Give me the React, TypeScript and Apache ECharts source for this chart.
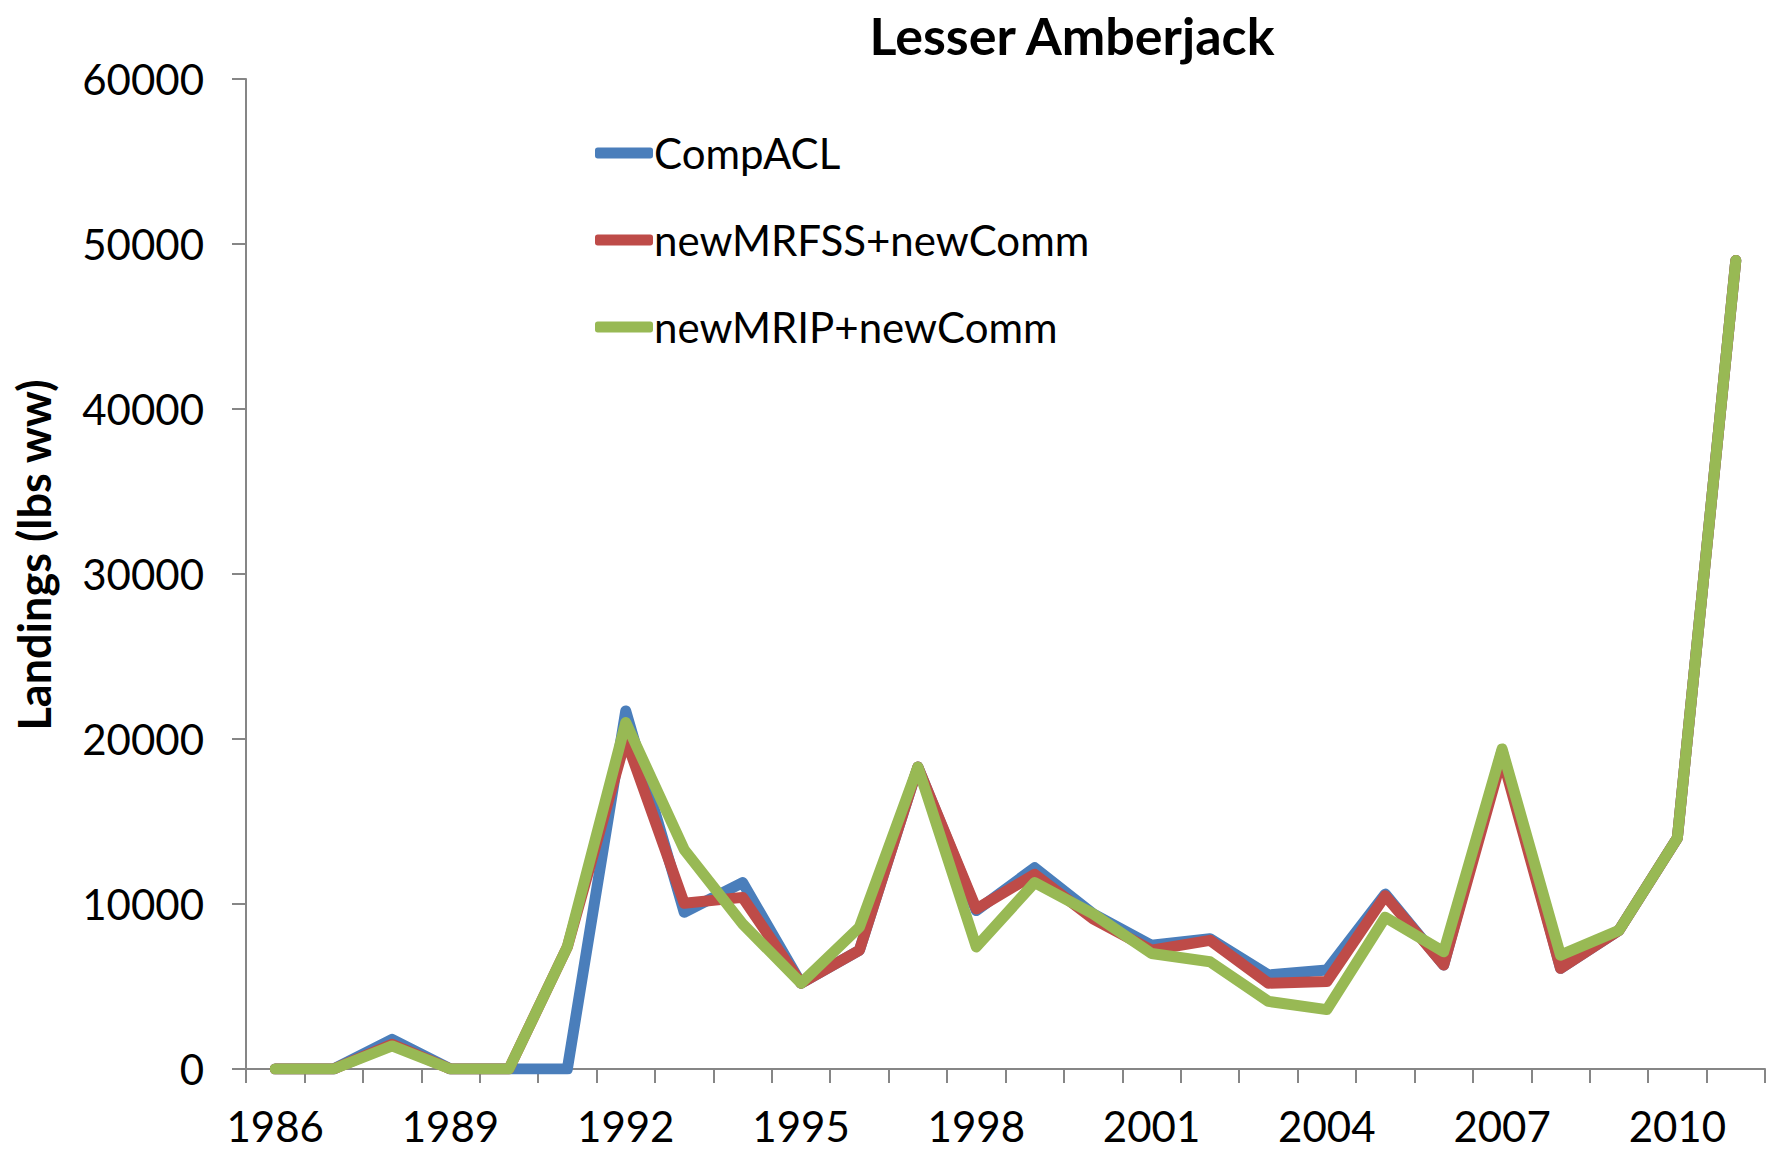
import React, { useEffect, useRef } from "react";
import * as echarts from "echarts";

const years = [
  "1986", "1987", "1988", "1989", "1990", "1991", "1992", "1993", "1994", "1995",
  "1996", "1997", "1998", "1999", "2000", "2001", "2002", "2003", "2004", "2005",
  "2006", "2007", "2008", "2009", "2010", "2011",
];
const compACL = [
  0, 0, 1800, 0, 0, 0, 21700, 9500, 11300, 5200,
  7200, 18300, 9600, 12200, 9400, 7500, 7900, 5700, 6000, 10600,
  6300, 19300, 6100, 8400, 14000, 49000,
];
const newMRFSS = [
  0, 0, 1500, 0, 0, 7400, 20000, 10050, 10400, 5200,
  7200, 18300, 9700, 11800, 9100, 7200, 7800, 5200, 5300, 10500,
  6300, 18900, 6100, 8400, 14000, 49000,
];
const newMRIP = [
  0, 0, 1400, 0, 0, 7400, 21000, 13300, 8800, 5200,
  8600, 18300, 7400, 11300, 9400, 7000, 6500, 4100, 3600, 9200,
  7100, 19400, 6900, 8400, 14000, 49000,
];
const seriesNames = ["CompACL", "newMRFSS+newComm", "newMRIP+newComm"];
const seriesColors = ["#4A7EBB", "#BE4B48", "#98B954"];
const yTicks = { min: 0, max: 60000, interval: 10000 };

const FONT = "Lato";

export default function App() {
  const ref = useRef<HTMLDivElement>(null);
  useEffect(() => {
    document.body.style.margin = "0";
    const chart = echarts.init(ref.current!, null, { renderer: "svg" });
    const datasets = [compACL, newMRFSS, newMRIP];
    chart.setOption({
      animation: false,
      backgroundColor: "#ffffff",
      title: {
        text: "Lesser Amberjack",
        left: 1067,
        top: 4,
        textAlign: "center",
        textStyle: { fontFamily: FONT, fontWeight: "bold", fontSize: 52, color: "#000" },
      },
      legend: {
        orient: "vertical",
        left: 590,
        top: 127,
        itemGap: 45,
        itemWidth: 58,
        itemHeight: 11,
        icon: "roundRect",
        textStyle: { fontFamily: FONT, fontSize: 42, color: "#000", padding: [0, 0, 0, -4] },
        data: seriesNames,
      },
      grid: {
        left: 246,
        right: 3,
        top: 79,
        bottom: 82,
        containLabel: false,
        outerBoundsMode: "none",
      },
      xAxis: {
        type: "category",
        data: years,
        boundaryGap: true,
        axisLine: { show: true, lineStyle: { color: "#868686", width: 2 } },
        axisTick: { show: true, interval: 0, length: 14, lineStyle: { color: "#868686", width: 2 } },
        axisLabel: {
          interval: 2,
          margin: 36,
          fontFamily: FONT,
          fontSize: 42,
          color: "#000",
        },
        splitLine: { show: false },
      },
      yAxis: {
        type: "value",
        min: yTicks.min,
        max: yTicks.max,
        interval: yTicks.interval,
        axisLine: { show: true, lineStyle: { color: "#868686", width: 2 } },
        axisTick: { show: true, length: 14, lineStyle: { color: "#868686", width: 2 } },
        axisLabel: {
          margin: 42,
          fontFamily: FONT,
          fontSize: 42,
          color: "#000",
          formatter: (v: number) => String(v),
        },
        splitLine: { show: false },
      },
      graphic: [
        {
          type: "text",
          x: 34,
          y: 555,
          rotation: Math.PI / 2,
          style: {
            text: "Landings (lbs ww)",
            fontFamily: FONT,
            fontWeight: "bold",
            fontSize: 45,
            fill: "#000",
            textAlign: "center",
            textVerticalAlign: "middle",
          },
        },
      ],
      series: datasets.map((d, i) => ({
        name: seriesNames[i],
        type: "line",
        data: d,
        symbol: "none",
        showSymbol: false,
        color: seriesColors[i],
        lineStyle: { width: 11, color: seriesColors[i], cap: "round", join: "round" },
        itemStyle: { color: seriesColors[i] },
        z: 2 + i,
      })),
    });
    return () => chart.dispose();
  }, []);
  return <div ref={ref} style={{ width: 1768, height: 1151 }} />;
}
